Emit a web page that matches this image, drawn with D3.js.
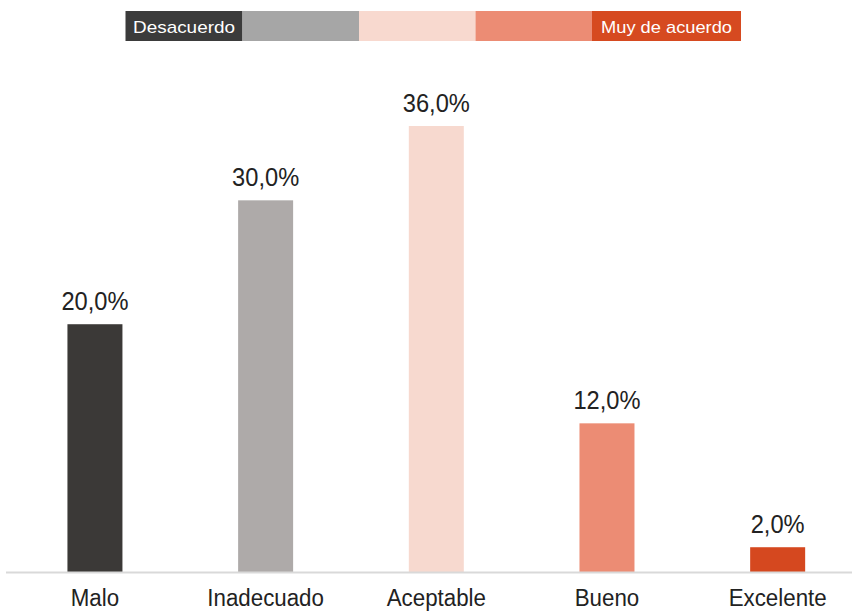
<!DOCTYPE html>
<html><head><meta charset="utf-8">
<script src="https://cdn.jsdelivr.net/npm/d3@7"></script>
<style>body{margin:0;background:#fff}svg{display:block}</style>
</head><body><div id="chart"></div>
<script>
const categories = ["Malo","Inadecuado","Aceptable","Bueno","Excelente"];
const values = [20.0, 30.0, 36.0, 12.0, 2.0];
const barColors = ["#3b3937","#aeaaa9","#f7d9cf","#ec8c74","#d5481f"];
const legendLabels = ["Desacuerdo","","","","Muy de acuerdo"];
const legendColors = ["#3b3b3b","#a6a6a6","#f8d9cf","#ec8c74","#d64a20"];
const legendWidths = [117,116.5,116.5,116.5,149];
const legendTextLen = [102,0,0,0,131];

const W = 852, H = 611;
const FONT = "Liberation Sans, Arial, sans-serif";
const svg = d3.select("#chart").append("svg").attr("width",W).attr("height",H);

const x = d3.scaleBand().domain(categories).range([9.6, 863]).paddingInner(0.32).paddingOuter(0.16);
const y = d3.scaleLinear().domain([0, 36]).range([572, 126]);
const cx = c => x(c) + x.bandwidth()/2;

svg.append("g").selectAll("rect").data(values).join("rect")
  .attr("x",(d,i)=>cx(categories[i]) - 27.5)
  .attr("width",55)
  .attr("y",d=>y(d)).attr("height",d=>y(0)-y(d))
  .attr("fill",(d,i)=>barColors[i]);

svg.append("line").attr("x1",6).attr("x2",852).attr("y1",572.5).attr("y2",572.5)
  .attr("stroke","#d9d9d9").attr("stroke-width",2);

svg.append("g").selectAll("text").data(values).join("text")
  .attr("transform",(d,i)=>`translate(${cx(categories[i])},${y(d)-14}) scale(0.9,1)`)
  .attr("text-anchor","middle")
  .attr("font-family",FONT)
  .attr("font-size",26.3).attr("fill","#222")
  .text(d=>d.toFixed(1).replace(".",",")+"%");

const xAxis = d3.axisBottom(x).tickSize(0).tickPadding(0);
const gx = svg.append("g").call(xAxis);
gx.select(".domain").remove();
gx.selectAll(".tick").attr("transform",d=>`translate(${cx(d)},605.5)`);
gx.selectAll("text").attr("font-family",FONT)
  .attr("font-size",23.5).attr("fill","#222").attr("dy",null).attr("y",0)
  .attr("transform","scale(0.95,1)");

// legend
let lx = 125.5;
const lg = svg.append("g");
legendWidths.forEach((w,i)=>{
  lg.append("rect").attr("x",lx).attr("y",11).attr("width",w).attr("height",30).attr("fill",legendColors[i]);
  if (legendLabels[i]) {
    lg.append("text").attr("x",lx+w/2 - legendTextLen[i]/2).attr("y",33)
      .attr("font-family",FONT)
      .attr("font-size",17).attr("fill","#fff")
      .attr("textLength",legendTextLen[i]).attr("lengthAdjust","spacingAndGlyphs")
      .text(legendLabels[i]);
  }
  lx += w;
});
</script></body></html>
